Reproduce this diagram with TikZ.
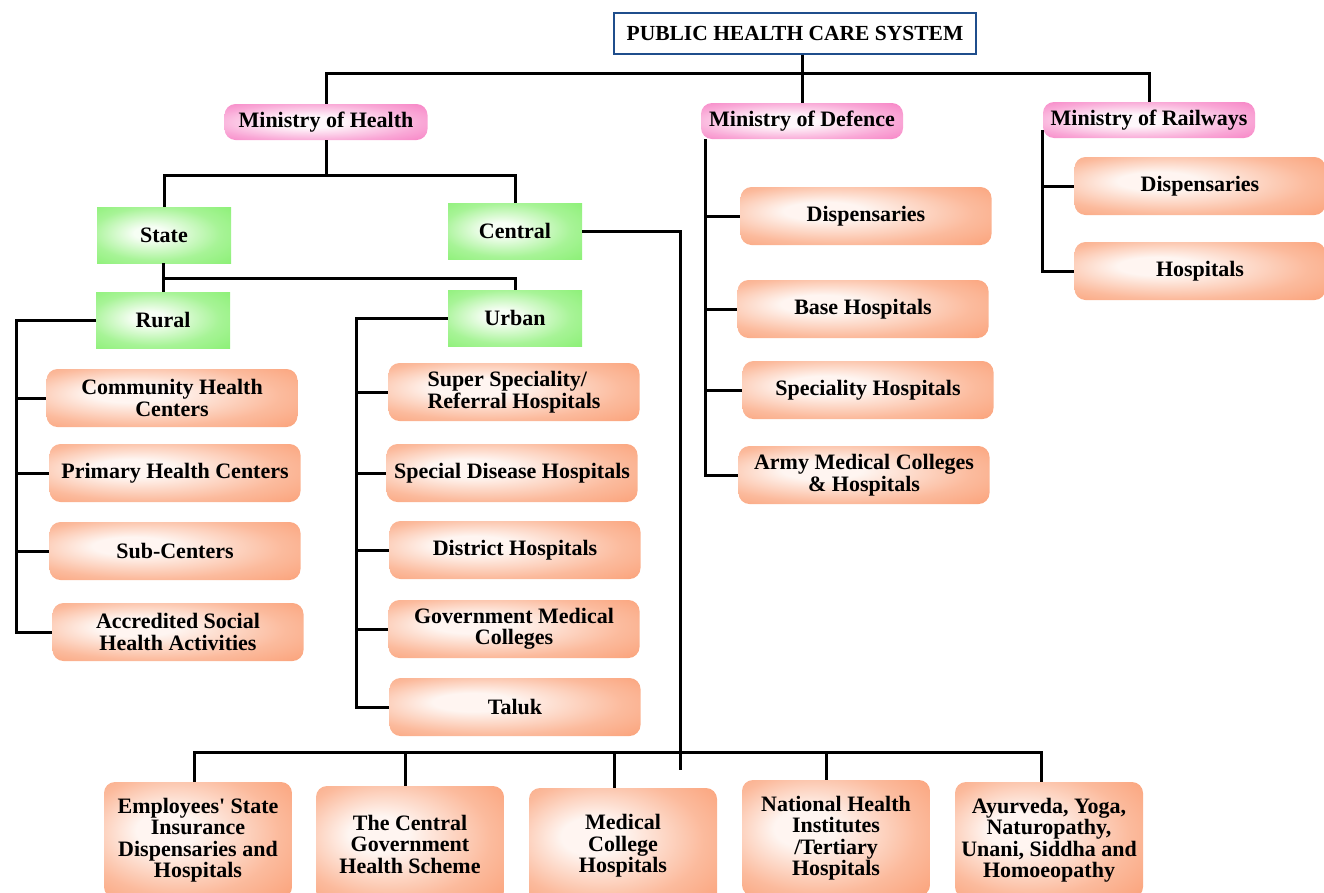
\documentclass[tikz,border=0pt]{standalone}
\usepackage{fontspec}
\setmainfont{Liberation Serif}
\usetikzlibrary{calc}

\definecolor{oredge}{RGB}{250,158,116}
\colorlet{ormid}{oredge!70!white}
\colorlet{orin}{oredge!10!white}
\definecolor{pkedge}{RGB}{246,120,192}
\colorlet{pkmid}{pkedge!65!white}
\colorlet{pkin}{pkedge!6!white}
\definecolor{gredge}{RGB}{138,240,116}
\colorlet{grmid}{gredge!75!white}
\colorlet{grin}{gredge!8!white}
\definecolor{titleblue}{RGB}{31,78,140}

\pgfdeclareradialshading{orglow}{\pgfpoint{-10bp}{5bp}}{color(0bp)=(orin); color(8bp)=(orin); color(26bp)=(ormid); color(40bp)=(oredge); color(50bp)=(oredge)}
\pgfdeclareradialshading{pkglow}{\pgfpoint{-5bp}{0bp}}{color(0bp)=(pkin); color(8bp)=(pkin); color(26bp)=(pkmid); color(40bp)=(pkedge); color(50bp)=(pkedge)}
\pgfdeclareradialshading{grglow}{\pgfpoint{-6bp}{2bp}}{color(0bp)=(grin); color(6bp)=(grin); color(24bp)=(grmid); color(38bp)=(gredge); color(50bp)=(gredge)}

\tikzset{
  boxtext/.style={font=\fontsize{22}{21.5}\selectfont\bfseries, align=center},
  orbox/.style={boxtext, shading=orglow, rounded corners=11pt, minimum width=251, minimum height=58, inner xsep=3},
  botbox/.style={boxtext, shading=orglow, rounded corners=11pt, minimum width=188, minimum height=116, inner xsep=2},
  pinkbox/.style={boxtext, shading=pkglow, rounded corners=11pt, minimum height=36, inner xsep=3},
  greenbox/.style={boxtext, shading=grglow, minimum width=134, minimum height=56},
  titlebox/.style={draw=titleblue, line width=2pt, fill=white, minimum width=362, minimum height=41, font=\fontsize{21.5}{21.5}\selectfont\bfseries},
  conn/.style={line width=3pt}
}

\begin{document}
\begin{tikzpicture}[x=1pt, y=-1pt]
\useasboundingbox (0,0) rectangle (1324,892);

\node[titlebox] (title) at (795,33) {PUBLIC HEALTH CARE SYSTEM};

\node[pinkbox, minimum width=203] (moh) at (326,122) {Ministry of Health};
\node[pinkbox, minimum width=202] (mod) at (802,121) {Ministry of Defence};
\node[pinkbox, minimum width=212] (mor) at (1149,120) {Ministry of Railways};

\node[greenbox] (state) at (164,235) {State};
\node[greenbox] (central) at (515,231) {Central};
\node[greenbox] (rural) at (163,320) {Rural};
\node[greenbox] (urban) at (515,318) {Urban};

\node[orbox] (chc) at (172,398) {Community Health\\Centers};
\node[orbox] (phc) at (175,473) {Primary Health Centers};
\node[orbox] (subc) at (175,551) {Sub-Centers};
\node[orbox] (asha) at (178,632) {Accredited Social\\Health Activities};

\node[orbox, align=left] (ssrh) at (514,392) {Super Speciality/\\Referral Hospitals};
\node[orbox] (sdh) at (512,473) {Special Disease Hospitals};
\node[orbox] (dh) at (515,550) {District Hospitals};
\node[orbox] (gmc) at (514,629) {Government Medical\\Colleges};
\node[orbox] (taluk) at (515,707) {Taluk};

\node[orbox] (ddisp) at (866,216) {Dispensaries};
\node[orbox] (bhosp) at (863,309) {Base Hospitals};
\node[orbox] (shosp) at (868,390) {Speciality Hospitals};
\node[orbox] (amc) at (864,475) {Army Medical Colleges\\\& Hospitals};

\node[orbox] (rdisp) at (1200,186) {Dispensaries};
\node[orbox] (rhosp) at (1200,271) {Hospitals};

\node[botbox] (esi) at (198,840) {Employees\textquotesingle{} State\\Insurance\\Dispensaries and\\Hospitals};
\node[botbox] (cghs) at (410,844) {The Central\\Government\\Health Scheme};
\node[botbox] (mch) at (623,846) {Medical\\College\\Hospitals};
\node[botbox] (nhi) at (836,838) {National Health\\Institutes\\/Tertiary\\Hospitals};
\node[botbox] (ayush) at (1049,840) {Ayurveda, Yoga,\\Naturopathy,\\Unani, Siddha and\\Homoeopathy};

\coordinate (topbar) at (0,73);
\coordinate (mohbar) at (0,175);
\coordinate (statebar) at (0,278);
\coordinate (botbar) at (0,752);
\coordinate (cend) at (680,770);
\coordinate (rspine) at (16,0);
\coordinate (uspine) at (356,0);
\coordinate (dspine) at ([xshift=5pt]mod.south west);
\coordinate (wspine) at ([yshift=-10pt]mor.west);

\draw[conn] (mod.north |- title.south) -- (mod.north);
\draw[conn] (moh.north) -- (moh.north |- topbar) -- (mor.north |- topbar) -- (mor.north);

\draw[conn] (moh.south) -- (moh.south |- mohbar);
\draw[conn] (state.north) -- (state.north |- mohbar) -| (central.north);
\draw[conn] (rural.north |- state.south) -- (rural.north);
\draw[conn] (rural.north |- statebar) -| (urban.north);

\draw[conn] (rural.west) -| (rspine |- asha.west) -- (asha.west);
\foreach \n in {chc,phc,subc}
{
  \draw[conn] (rspine |- \n.west) -- (\n.west);
}
\draw[conn] (urban.west) -| (uspine |- taluk.west) -- (taluk.west);
\foreach \n in {ssrh,sdh,dh,gmc}
{
  \draw[conn] (uspine |- \n.west) -- (\n.west);
}

\draw[conn] (dspine) |- (amc.west);
\foreach \n in {ddisp,bhosp,shosp}
{
  \draw[conn] (dspine |- \n.west) -- (\n.west);
}
\draw[conn] (wspine) |- (rhosp.west);
\draw[conn] (wspine |- rdisp.west) -- (rdisp.west);

\draw[conn] (central.east) -| (cend);
\foreach \n/\s in {esi/-4,cghs/-5,mch/-9,nhi/-10,ayush/-8}
{
  \path (\n.north) ++(\s,0) coordinate (\n-b);
}
\draw[conn] (esi-b) |- (ayush-b |- botbar) -- (ayush-b);
\foreach \n in {cghs,mch,nhi}
{
  \draw[conn] (\n-b) -- (\n-b |- botbar);
}
\end{tikzpicture}
\end{document}
